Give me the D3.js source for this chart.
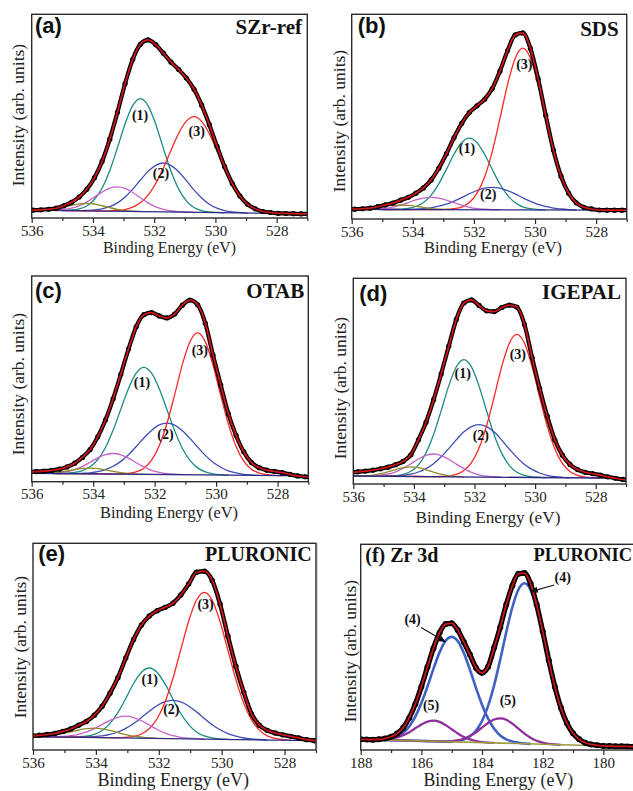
<!DOCTYPE html>
<html>
<head>
<meta charset="utf-8">
<script src="https://cdn.jsdelivr.net/npm/d3@7"></script>
<style>
  body { margin: 0; background: #fff; }
  svg { display: block; }
</style>
</head>
<body>
<svg id="fig" width="633" height="791"></svg>
<script>
// ---------------- data (intensity in arb. units, 0 = frame bottom, 100 = frame top)
const ticksO1s = [536, 534, 532, 530, 528];
const minorO1s = [535, 533, 531, 529, 527];
const ticksZr = [188, 186, 184, 182, 180];
const minorZr = [187, 185, 183, 181, 179];

// (a) SZr-ref
const aEnergy = [536.2,535.95,535.7,535.45,535.2,534.95,534.7,534.45,534.2,533.95,533.7,533.45,533.2,532.95,532.7,532.45,532.2,531.95,531.7,531.45,531.2,530.95,530.7,530.45,530.2,529.95,529.7,529.45,529.2,528.95,528.7,528.45,528.2,527.95,527.7,527.45,527.2,526.95];
const aFit = [3.9,3.9,4.0,4.3,4.8,6.0,7.7,10.3,14.1,19.8,27.8,38.7,51.9,66.0,77.9,85.3,87.4,85.1,80.9,76.5,72.9,68.7,63.2,55.4,45.8,35.2,25.2,16.9,10.8,6.7,4.5,3.2,2.7,2.3,2.2,2.1,2.0,2.0];
const aPeak1 = [0,0,0,0,0,0.1,0.3,0.9,2.4,5.6,11.3,20.0,31.2,43.0,52.1,55.5,52.1,43.0,31.2,20.0,11.3,5.6,2.4,0.9,0.3,0.1,0];
const aPeak2 = [0,0,0,0,0,0,0,0,0.2,0.5,1.1,2.2,4.1,7.1,11.0,15.5,19.8,22.8,24.0,22.8,19.8,15.5,11.0,7.1,4.1,2.2,1.1,0.5,0.2,0];
const aPeak3 = [0,0,0,0,0,0,0,0,0,0,0,0.1,0.4,0.9,2.1,4.3,8.1,13.9,21.5,30.3,38.7,44.7,47.0,44.7,38.7,30.3,21.5,13.9,8.1,4.3,2.1,0.9,0.4,0.1,0];
const aPeak4 = [0,0,0,0.1,0.2,0.5,1.2,2.4,4.3,6.8,9.3,11.3,12.0,11.3,9.3,6.8,4.3,2.4,1.2,0.5,0.2,0.1,0];
const aPeak5 = [0,0,0.2,0.4,0.9,1.7,2.6,3.4,3.7,3.4,2.6,1.7,0.9,0.4,0.2,0];
const aBackground = [[536, 3.9], [527, 2.0]];
const aLabels = [["(1)", 532.46, 50.5], ["(2)", 531.78, 21.9], ["(3)", 530.61, 42.3]];

// (b) SDS
const bEnergy = [536.15,535.9,535.65,535.4,535.15,534.9,534.65,534.4,534.15,533.9,533.65,533.4,533.15,532.9,532.65,532.4,532.15,531.9,531.65,531.4,531.15,530.9,530.65,530.4,530.15,529.9,529.65,529.4,529.15,528.9,528.65,528.4,528.15,527.9,527.65,527.4,527.15,526.9];
const bFit = [4.7,4.8,5.0,5.3,6.0,6.9,7.8,9.2,10.6,12.6,15.2,19.1,24.8,31.9,39.8,46.7,52.0,55.3,58.5,63.7,72.2,82.2,89.9,90.9,83.3,68.5,50.6,33.7,20.9,12.6,7.9,5.7,4.9,4.4,4.3,4.3,4.3,4.3];
const bPeak1 = [0,0,0,0,0,0,0,0.2,0.6,1.5,3.5,7.1,12.6,19.7,27.1,32.8,35.0,32.8,27.1,19.7,12.6,7.1,3.5,1.5,0.6,0.2,0];
const bPeak2 = [0,0,0,0,0,0,0,0,0,0.2,0.5,0.9,1.7,2.7,4.2,5.9,7.8,9.4,10.6,11.0,10.6,9.4,7.8,5.9,4.2,2.7,1.7,0.9,0.5,0.2,0];
const bPeak3 = [0,0,0,0,0,0,0,0,0,0,0,0,0,0.1,0.5,1.3,3.5,8.0,16.0,28.4,44.5,61.2,74.1,79.0,74.1,61.2,44.5,28.4,16.0,8.0,3.5,1.3,0.5,0.1,0];
const bPeak4 = [0,0,0,0.1,0.3,0.6,1.2,2.2,3.4,4.7,5.6,6.0,5.6,4.7,3.4,2.2,1.2,0.6,0.3,0.1,0];
const bPeak5 = [0,0.1,0.3,0.5,1.0,1.6,2.0,2.2,2.0,1.6,1.0,0.5,0.3,0.1,0];
const bBackground = [[536, 4.7], [527, 4.3]];
const bLabels = [["(1)", 532.23, 34.2], ["(2)", 531.53, 12.1], ["(3)", 530.35, 75.4]];

// (c) OTAB
const cEnergy = [536.1,535.85,535.6,535.35,535.1,534.85,534.6,534.35,534.1,533.85,533.6,533.35,533.1,532.85,532.6,532.35,532.1,531.85,531.6,531.35,531.1,530.85,530.6,530.35,530.1,529.85,529.6,529.35,529.1,528.85,528.6,528.35,528.1,527.85,527.6,527.35,527.1,526.85];
const cFit = [4.8,4.9,5.1,5.5,6.1,7.2,9.0,11.8,15.6,21.8,30.0,40.3,52.2,64.5,75.3,81.2,82.2,80.6,79.6,81.5,85.8,88.3,86.0,77.0,61.5,47.0,33.0,22.5,14.5,9.3,6.8,5.6,5.0,4.4,3.6,2.8,2.4,2.0];
const cPeak1 = [0,0,0,0,0,0.2,0.6,1.5,3.4,7.0,12.9,21.4,31.6,41.7,49.2,52.0,49.2,41.7,31.6,21.4,12.9,7.0,3.4,1.5,0.6,0.2,0];
const cPeak2 = [0,0,0,0,0,0,0,0.2,0.5,1.1,2.1,3.8,6.2,9.5,13.5,17.7,21.4,24.1,25.0,24.1,21.4,17.7,13.5,9.5,6.2,3.8,2.1,1.1,0.5,0.2,0];
const cPeak3 = [0,0,0,0,0,0,0,0,0,0,0,0,0.1,0.4,1.2,3.0,6.9,14.0,24.8,38.8,53.5,64.7,69.0,64.7,53.5,38.8,24.8,14.0,6.9,3.0,1.2,0.4,0.1,0];
const cPeak4 = [0,0,0,0.2,0.4,1.0,2.0,3.6,5.6,7.8,9.4,10.0,9.4,7.8,5.6,3.6,2.0,1.0,0.4,0.2,0];
const cPeak5 = [0,0,0.1,0.3,0.7,1.3,2.0,2.6,2.8,2.6,2.0,1.3,0.7,0.3,0.1,0];
const cBackground = [[536, 4.1], [527, 2.8]];
const cLabels = [["(1)", 532.41, 48.1], ["(2)", 531.65, 23.0], ["(3)", 530.53, 63.7]];

// (d) IGEPAL
const dEnergy = [536.1,535.85,535.6,535.35,535.1,534.85,534.6,534.35,534.1,533.85,533.6,533.35,533.1,532.85,532.6,532.35,532.1,531.85,531.6,531.35,531.1,530.85,530.6,530.35,530.1,529.85,529.6,529.35,529.1,528.85,528.6,528.35,528.1,527.85,527.6,527.35,527.1,526.85];
const dFit = [5.6,5.9,6.3,6.7,7.4,8.2,9.4,11.0,14.2,21.5,30.0,41.0,53.5,67.0,80.0,88.0,89.5,86.8,84.2,83.8,85.8,87.0,86.0,77.5,61.5,46.5,33.0,21.5,14.0,9.5,7.0,5.7,5.0,4.3,3.5,2.8,2.2,1.9];
const dPeak1 = [0,0,0,0,0,0.1,0.3,1.0,2.5,5.7,11.6,20.5,32.1,44.2,53.5,57.0,53.5,44.2,32.1,20.5,11.6,5.7,2.5,1.0,0.3,0.1,0];
const dPeak2 = [0,0,0,0,0,0,0.2,0.5,1.1,2.2,3.9,6.3,9.7,13.7,18.0,21.9,24.5,25.5,24.5,21.9,18.0,13.7,9.7,6.3,3.9,2.2,1.1,0.5,0.2,0];
const dPeak3 = [0,0,0,0,0,0,0,0,0,0,0,0,0.1,0.4,1.2,3.1,7.0,14.1,25.0,39.1,53.9,65.2,69.5,65.2,53.9,39.1,25.0,14.1,7.0,3.1,1.2,0.4,0.1,0];
const dPeak4 = [0,0,0,0.2,0.5,1.1,2.2,4.0,6.2,8.5,10.3,11.0,10.3,8.5,6.2,4.0,2.2,1.1,0.5,0.2,0];
const dPeak5 = [0,0,0.2,0.5,1.2,2.2,3.3,4.3,4.7,4.3,3.3,2.2,1.2,0.5,0.2,0];
const dBackground = [[536, 3.9], [527, 2.8]];
const dLabels = [["(1)", 532.39, 53.5], ["(2)", 531.79, 23.5], ["(3)", 530.57, 63.0]];

// (e) PLURONIC
const eEnergy = [536.05,535.8,535.55,535.3,535.05,534.8,534.55,534.3,534.05,533.8,533.55,533.3,533.05,532.8,532.55,532.3,532.05,531.8,531.55,531.3,531.05,530.8,530.55,530.3,530.05,529.8,529.55,529.3,529.05,528.8,528.55,528.3,528.05,527.8,527.55,527.3,527.05,526.8];
const eFit = [6.8,7.1,7.5,8.0,9.0,10.2,12.0,13.8,16.8,21.2,27.5,35.0,44.5,53.5,60.5,64.8,67.4,69.0,71.0,75.0,80.3,86.0,86.5,82.0,70.5,55.0,40.5,28.0,17.5,12.0,9.5,8.2,7.3,6.6,5.8,5.0,4.5,4.3];
const ePeak1 = [0,0,0,0,0,0,0.2,0.6,1.5,3.4,6.9,12.2,19.1,26.4,31.9,34.0,31.9,26.4,19.1,12.2,6.9,3.4,1.5,0.6,0.2,0];
const ePeak2 = [0,0,0,0,0,0,0,0.2,0.4,0.8,1.6,2.8,4.6,7.0,10.0,13.1,15.9,17.8,18.5,17.8,15.9,13.1,10.0,7.0,4.6,2.8,1.6,0.8,0.4,0.2,0];
const ePeak3 = [0,0,0,0,0,0,0,0,0,0,0,0,0.3,0.8,2.0,4.7,9.6,17.7,29.2,43.1,56.9,67.2,71.0,67.2,56.9,43.1,29.2,17.7,9.6,4.7,2.0,0.8,0.3,0];
const ePeak4 = [0,0,0,0.1,0.3,0.7,1.4,2.6,4.3,6.4,8.4,9.9,10.5,9.9,8.4,6.4,4.3,2.6,1.4,0.7,0.3,0.1,0];
const ePeak5 = [0,0.2,0.5,0.9,1.6,2.5,3.5,4.2,4.5,4.2,3.5,2.5,1.6,0.9,0.5,0.2,0];
const eBackground = [[536, 6.5], [527, 4.5]];
const eLabels = [["(1)", 532.29, 33.9], ["(2)", 531.6, 19.4], ["(3)", 530.51, 70.2]];

// (f) Zr 3d, PLURONIC
const fEnergy = [188.2,188.0,187.8,187.6,187.4,187.2,187.0,186.8,186.6,186.4,186.2,186.0,185.8,185.6,185.4,185.2,185.0,184.8,184.6,184.4,184.2,184.0,183.8,183.6,183.4,183.2,183.0,182.8,182.6,182.4,182.2,182.0,181.8,181.6,181.4,181.2,181.0,180.8,180.6,180.4,180.2,180.0,179.8,179.6,179.4,179.2,179.0,178.8];
const fFit = [5.3,5.2,5.1,5.0,5.2,5.6,6.4,8.0,10.8,15.6,22.3,30.8,40.3,49.5,57.0,61.2,61.6,58.3,52.5,46.4,40.0,37.5,40.5,49.8,59.7,70.7,79.9,85.7,86.0,80.9,70.7,57.7,43.6,30.8,20.5,13.0,8.1,5.2,3.5,2.7,2.3,2.0,1.9,1.8,1.8,1.7,1.6,1.5];
const fPeak4a = [0,0,0,0,0.1,0.4,0.9,1.9,3.7,6.9,11.7,18.4,26.5,35.3,43.3,49.0,51.0,49.0,43.3,35.3,26.5,18.4,11.7,6.9,3.7,1.9,0.9,0.4,0.1,0];
const fPeak4b = [0,0,0,0,0,0,0,0,0,0,0,0,0,0,0,0,0.2,0.6,1.3,2.9,5.7,10.5,17.9,28.1,40.6,54.1,66.2,74.9,78.0,74.9,66.2,54.1,40.6,28.1,17.9,10.5,5.7,2.9,1.3,0.6,0.2,0];
const fPeak5a = [0,0,0,0,0.1,0.3,0.7,1.4,2.5,4.1,6.1,8.0,9.5,10.0,9.5,8.0,6.1,4.1,2.5,1.4,0.7,0.3,0.1,0];
const fPeak5b = [0,0,0,0,0,0,0,0,0,0,0,0,0,0,0,0.1,0.3,0.8,1.6,3.0,4.9,7.3,9.6,11.4,12.0,11.4,9.6,7.3,4.9,3.0,1.6,0.8,0.3,0.1,0];
const fBackground = [[188, 5.2], [179, 1.6]];
const fLabels = [["(4)", 181.34, 83.8], ["(4)", 186.29, 63.5], ["(5)", 185.68, 21.5], ["(5)", 183.15, 24.0]];
const fArrows = [[181.62, 80.2, 182.39, 77.0], [186.01, 59.6, 185.21, 52.6]];

// ---------------- styles and layout
const serif = "'Liberation Serif','Times New Roman',Times,serif";
const sans = "'Liberation Sans',Arial,Helvetica,sans-serif";
const o1sColours = ["#1e8a84", "#3d4db4", "#ff2626", "#c462c8", "#8e8a2c"];
const o1sWidths = [1.3, 1.3, 1.3, 1.3, 1.3];
const zrColours = ["#3f60c4", "#3f60c4", "#8e2d9c", "#8e2d9c"];
const zrWidths = [2.6, 2.6, 2.2, 2.2];

const panels = [
  { key: "a", box: [31.7, 14.3, 307.3, 218], domain: [536, 527], ticks: ticksO1s, minor: minorO1s,
    energy: aEnergy, fit: aFit, peaks: [aPeak1, aPeak2, aPeak3, aPeak4, aPeak5], background: aBackground,
    colours: o1sColours, widths: o1sWidths, bgColour: "#2b2b82", labels: aLabels, arrows: [],
    tag: "(a)", tagFont: sans, tagSize: 22, tagPos: [35, 33], name: "SZr-ref", nameSize: 21, nameAnchor: "end", namePos: [302, 34],
    yLab: [18.5, 115], xLab: [169.5, 252.5, 15.8], band: 4.2, dot: 2.6 },
  { key: "b", box: [351.7, 14.3, 626.7, 219], domain: [536, 527], ticks: ticksO1s, minor: minorO1s,
    energy: bEnergy, fit: bFit, peaks: [bPeak1, bPeak2, bPeak3, bPeak4, bPeak5], background: bBackground,
    colours: o1sColours, widths: o1sWidths, bgColour: "#2b2b82", labels: bLabels, arrows: [],
    tag: "(b)", tagFont: sans, tagSize: 22, tagPos: [357.7, 33], name: "SDS", nameSize: 21, nameAnchor: "end", namePos: [618.7, 35.5],
    yLab: [340, 121], xLab: [493, 253, 16.4], band: 4.2, dot: 2.6 },
  { key: "c", box: [31.7, 276, 308.3, 481.7], domain: [536, 527], ticks: ticksO1s, minor: minorO1s,
    energy: cEnergy, fit: cFit, peaks: [cPeak1, cPeak2, cPeak3, cPeak4, cPeak5], background: cBackground,
    colours: o1sColours, widths: o1sWidths, bgColour: "#2b2b82", labels: cLabels, arrows: [],
    tag: "(c)", tagFont: sans, tagSize: 22, tagPos: [35, 298], name: "OTAB", nameSize: 21, nameAnchor: "end", namePos: [304.3, 298],
    yLab: [19, 384], xLab: [169, 518, 16.4], band: 4.2, dot: 2.6 },
  { key: "d", box: [353.3, 278.3, 626, 484], domain: [536, 527], ticks: ticksO1s, minor: minorO1s,
    energy: dEnergy, fit: dFit, peaks: [dPeak1, dPeak2, dPeak3, dPeak4, dPeak5], background: dBackground,
    colours: o1sColours, widths: o1sWidths, bgColour: "#2b2b82", labels: dLabels, arrows: [],
    tag: "(d)", tagFont: sans, tagSize: 22, tagPos: [359.3, 300.5], name: "IGEPAL", nameSize: 21, nameAnchor: "end", namePos: [621, 299],
    yLab: [341, 388], xLab: [488, 522.5, 17.2], band: 4.2, dot: 2.6 },
  { key: "e", box: [33, 543.3, 316, 750], domain: [536, 527], ticks: ticksO1s, minor: minorO1s,
    energy: eEnergy, fit: eFit, peaks: [ePeak1, ePeak2, ePeak3, ePeak4, ePeak5], background: eBackground,
    colours: o1sColours, widths: o1sWidths, bgColour: "#2b2b82", labels: eLabels, arrows: [],
    tag: "(e)", tagFont: sans, tagSize: 22, tagPos: [38.3, 561], name: "PLURONIC", nameSize: 20, nameAnchor: "end", namePos: [311.7, 561],
    yLab: [20.8, 647], xLab: [173.3, 786, 18], band: 4.4, dot: 2.7 },
  { key: "f", box: [360.7, 544.3, 633.7, 750], domain: [188, 179], ticks: ticksZr, minor: minorZr,
    energy: fEnergy, fit: fFit, peaks: [fPeak4a, fPeak4b, fPeak5a, fPeak5b], background: fBackground,
    colours: zrColours, widths: zrWidths, bgColour: "#9a9a3e", labels: fLabels, arrows: fArrows,
    tag: "(f) Zr 3d", tagFont: serif, tagSize: 20, tagPos: [365.3, 562], name: "PLURONIC", nameSize: 18.5, nameAnchor: "start", namePos: [533.5, 561],
    yLab: [350.3, 651], xLab: [498.3, 786, 17.8], band: 5.2, dot: 3.0 }
];

const svg = d3.select("#fig");
const defs = svg.append("defs");
defs.append("marker")
  .attr("id", "arrowhead")
  .attr("viewBox", "0 0 10 10")
  .attr("refX", 9).attr("refY", 5)
  .attr("markerWidth", 7).attr("markerHeight", 7)
  .attr("orient", "auto")
  .append("path")
  .attr("d", "M0,1 L10,5 L0,9 Z")
  .attr("fill", "#111");

// faint vertical edge seen left of panel (f)
svg.append("line")
  .attr("x1", 317).attr("x2", 317).attr("y1", 543).attr("y2", 749)
  .attr("stroke", "#c4c4c4").attr("stroke-width", 1);

panels.forEach(p => {
  const [x0, y0, x1, y1] = p.box;
  const x = d3.scaleLinear().domain(p.domain).range([x0, x1]);
  const y = d3.scaleLinear().domain([0, 100]).range([y1, y0]);
  const bg = d3.scaleLinear()
    .domain([p.background[0][0], p.background[1][0]])
    .range([p.background[0][1], p.background[1][1]]);

  const g = svg.append("g").attr("class", "panel-" + p.key);

  defs.append("clipPath").attr("id", "clip-" + p.key)
    .append("rect").attr("x", x0).attr("y", y0).attr("width", x1 - x0).attr("height", y1 - y0);
  const plot = g.append("g").attr("clip-path", `url(#clip-${p.key})`);

  // fitted components sit on the background
  const peakLine = d3.line()
    .curve(d3.curveMonotoneX)
    .x((v, i) => x(p.energy[i]))
    .y((v, i) => y(bg(p.energy[i]) + v));
  p.peaks.forEach((vals, k) => {
    plot.append("path")
      .attr("d", peakLine(vals))
      .attr("fill", "none")
      .attr("stroke", p.colours[k])
      .attr("stroke-width", p.widths[k]);
  });

  plot.append("path")
    .attr("d", d3.line()(p.background.map(d => [x(d[0]), y(d[1])])))
    .attr("fill", "none")
    .attr("stroke", p.bgColour)
    .attr("stroke-width", p.key === "f" ? 1.6 : 1.3);

  // measured spectrum (black dots) and envelope (red)
  const fitLine = d3.line()
    .curve(d3.curveMonotoneX)
    .x((v, i) => x(p.energy[i]))
    .y(v => y(v));
  plot.append("path")
    .attr("d", fitLine(p.fit))
    .attr("fill", "none")
    .attr("stroke", "#000")
    .attr("stroke-width", p.band);
  plot.selectAll("circle.pt")
    .data(p.fit)
    .join("circle")
    .attr("class", "pt")
    .attr("cx", (v, i) => x(p.energy[i]))
    .attr("cy", v => y(v))
    .attr("r", p.dot)
    .attr("fill", "#000");
  plot.append("path")
    .attr("d", fitLine(p.fit))
    .attr("fill", "none")
    .attr("stroke", "#d3161c")
    .attr("stroke-width", 1.7);

  // frame
  g.append("rect")
    .attr("x", x0).attr("y", y0)
    .attr("width", x1 - x0).attr("height", y1 - y0)
    .attr("fill", "none")
    .attr("stroke", "#2a2a2a")
    .attr("stroke-width", 1.4);

  // bottom axis: major and minor ticks
  const major = g.append("g")
    .attr("transform", `translate(0,${y1})`)
    .call(d3.axisBottom(x).tickValues(p.ticks).tickSize(5).tickPadding(2).tickFormat(d3.format("d")));
  major.select(".domain").remove();
  major.selectAll("line").attr("stroke", "#2a2a2a").attr("stroke-width", 1.2);
  major.selectAll("text")
    .style("font-family", serif)
    .style("font-size", "15px")
    .attr("fill", "#222");

  const minor = g.append("g")
    .attr("transform", `translate(0,${y1})`)
    .call(d3.axisBottom(x).tickValues(p.minor.filter(v => v <= p.domain[0] && v >= p.domain[1])).tickSize(3).tickFormat(""));
  minor.select(".domain").remove();
  minor.selectAll("line").attr("stroke", "#2a2a2a").attr("stroke-width", 1.2);

  // axis titles
  g.append("text")
    .attr("transform", `translate(${p.yLab[0]},${p.yLab[1]}) rotate(-90)`)
    .attr("dy", "0.3em")
    .attr("text-anchor", "middle")
    .style("font-family", serif)
    .style("font-size", "17.5px")
    .attr("fill", "#222")
    .text("Intensity (arb. units)");

  g.append("text")
    .attr("x", p.xLab[0]).attr("y", p.xLab[1])
    .attr("text-anchor", "middle")
    .style("font-family", serif)
    .style("font-size", p.xLab[2] + "px")
    .attr("fill", "#222")
    .text("Binding Energy (eV)");

  // panel tag and sample name
  g.append("text")
    .attr("x", p.tagPos[0]).attr("y", p.tagPos[1])
    .style("font-family", p.tagFont)
    .style("font-weight", "bold")
    .style("font-size", p.tagSize + "px")
    .attr("fill", "#111")
    .text(p.tag);

  g.append("text")
    .attr("x", p.namePos[0]).attr("y", p.namePos[1])
    .attr("text-anchor", p.nameAnchor)
    .style("font-family", serif)
    .style("font-weight", "bold")
    .style("font-size", p.nameSize + "px")
    .attr("fill", "#111")
    .text(p.name);

  // peak numbers
  g.selectAll("text.peak")
    .data(p.labels)
    .join("text")
    .attr("class", "peak")
    .attr("x", d => x(d[1]))
    .attr("y", d => y(d[2]))
    .attr("text-anchor", "middle")
    .attr("dominant-baseline", "central")
    .style("font-family", serif)
    .style("font-weight", "bold")
    .style("font-size", "14px")
    .attr("fill", "#111")
    .text(d => d[0]);

  g.selectAll("line.arrow")
    .data(p.arrows)
    .join("line")
    .attr("class", "arrow")
    .attr("x1", d => x(d[0])).attr("y1", d => y(d[1]))
    .attr("x2", d => x(d[2])).attr("y2", d => y(d[3]))
    .attr("stroke", "#111")
    .attr("stroke-width", 1.1)
    .attr("marker-end", "url(#arrowhead)");
});
</script>
</body>
</html>
